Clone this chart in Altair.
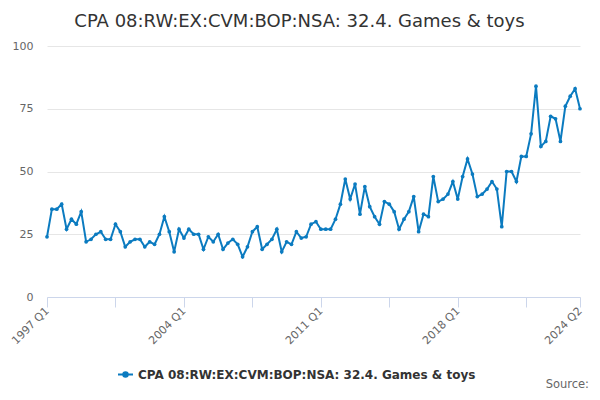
import altair as alt
import pandas as pd

values = [24, 35, 35, 37, 27, 31, 29, 34, 22, 23, 25, 26, 23, 23, 29, 26, 20, 22, 23, 23,
          20, 22, 21, 25, 32, 26, 18, 27, 23.5, 27, 25, 25, 19, 24, 22, 25, 19, 21.5, 23, 21,
          16, 20, 26, 28, 19, 21, 23, 27, 18, 22, 21, 26, 23.5, 24, 29, 30, 27, 27, 27, 31,
          37, 47, 39, 45, 33, 44, 36, 32, 29, 38, 37, 34, 27, 31, 34, 40, 26, 33, 32, 48,
          38, 39, 41, 46, 39, 48, 55, 49, 40, 41, 43, 46, 43, 28, 50, 50, 46, 56, 56, 65,
          84, 60, 62, 72, 71, 62, 76, 80, 83, 75]
start_year = 1997
quarters = [f"{start_year + i // 4} Q{i % 4 + 1}" for i in range(len(values))]
series_name = "CPA 08:RW:EX:CVM:BOP:NSA: 32.4. Games & toys"
title_text = "CPA 08:RW:EX:CVM:BOP:NSA: 32.4. Games & toys"
source_text = ["Source:"]
y_ticks = [0, 25, 50, 75, 100]
last = len(values) - 1
x_tick_idx = list(range(0, len(values), 7)) + [last]
x_label_idx = [0, 28, 56, 84, last]

df = pd.DataFrame({"idx": list(range(len(values))), "quarter": quarters,
                   "value": values, "series": series_name})

label_expr = " : ".join(f"datum.value == {i} ? '{quarters[i]}'" for i in x_label_idx) + " : ''"

blue = "#0b7bc0"
font = "DejaVu Sans"

x_enc = alt.X("idx:Q", scale=alt.Scale(domain=[0, last], nice=False, zero=False),
              axis=alt.Axis(values=x_tick_idx, labelExpr=label_expr, title=None,
                            grid=False, domainColor="#ccd6eb", tickColor="#ccd6eb",
                            tickSize=10, labelAngle=-45, labelAlign="right",
                            labelBaseline="middle", labelColor="#666666",
                            labelFontSize=11, labelFont=font, labelPadding=2,
                            labelOverlap=False, labelFlush=False))
y_enc = alt.Y("value:Q", scale=alt.Scale(domain=[0, 100], nice=False),
              axis=alt.Axis(values=y_ticks, title=None, domain=False, ticks=False,
                            gridColor="#e6e6e6", labelColor="#666666", labelFontSize=11,
                            labelFont=font, labelPadding=14))

legend = alt.Legend(title=None, orient="none", legendX=70, legendY=320,
                    symbolType="M-1,0H1M0.3,0A0.3,0.3,0,1,1,-0.3,0A0.3,0.3,0,1,1,0.3,0",
                    symbolSize=225, symbolStrokeWidth=2, symbolStrokeColor=blue,
                    symbolFillColor=blue, labelFontWeight="bold", labelFontSize=12,
                    labelColor="#333333", labelFont=font, labelLimit=500)

line = alt.Chart(df).mark_line(strokeWidth=2).encode(
    x=x_enc, y=y_enc,
    color=alt.Color("series:N", scale=alt.Scale(range=[blue]), legend=legend),
)
points = alt.Chart(df).mark_point(filled=True, size=14, opacity=1, color=blue).encode(
    x="idx:Q", y="value:Q")

src = alt.Chart(pd.DataFrame({"t": source_text})).mark_text(
    align="right", baseline="middle", fontSize=11.5, color="#666666", font=font
).encode(text="t:N", x=alt.value(542), y=alt.value(339))

chart = alt.layer(line, points, src).properties(
    width=533, height=251, autosize="none",
    padding={"left": 39, "top": 38, "right": 12, "bottom": 95},
    title=alt.TitleParams(title_text, fontSize=18, fontWeight="normal", color="#333333",
                          font=font, anchor="middle", dx=-14, offset=9),
).configure_view(stroke=None)

chart.save("out.html", embed_options={"renderer": "svg", "actions": False})
